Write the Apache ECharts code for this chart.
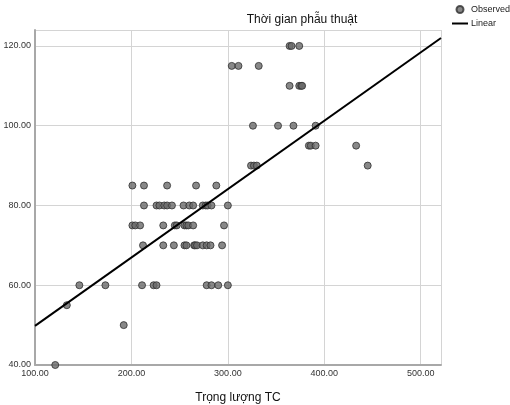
<!DOCTYPE html>
<html>
<head>
<meta charset="utf-8">
<script src="https://cdn.jsdelivr.net/npm/echarts@6/dist/echarts.min.js"></script>
<style>
  html, body { margin: 0; padding: 0; background: #fff; }
  #chart { width: 510px; height: 405px; }
</style>
</head>
<body>
<div id="chart"></div>
<script>
// Trọng lượng TC (x) va Thời gian phẫu thuật (y), doc tu hinh
var obsX = [
  121, 192, 133,
  146, 173, 211, 223, 226, 278, 283, 290, 300,
  212, 233, 244, 255, 257, 265, 266, 268, 274, 278, 282, 294,
  201, 204, 209, 233, 245, 247, 255, 257, 259, 264, 296,
  213, 226, 229, 234, 237, 242, 254, 260, 264, 274, 277, 279, 283, 300,
  201, 213, 237, 267, 288,
  324, 327, 330, 445,
  384, 386, 391, 433,
  326, 352, 368, 391,
  364, 374, 376, 377,
  304, 311, 332,
  364, 366, 374
];
var obsY = [
  40, 50, 55,
  60, 60, 60, 60, 60, 60, 60, 60, 60,
  70, 70, 70, 70, 70, 70, 70, 70, 70, 70, 70, 70,
  75, 75, 75, 75, 75, 75, 75, 75, 75, 75, 75,
  80, 80, 80, 80, 80, 80, 80, 80, 80, 80, 80, 80, 80, 80,
  85, 85, 85, 85, 85,
  90, 90, 90, 90,
  95, 95, 95, 95,
  100, 100, 100, 100,
  110, 110, 110, 110,
  115, 115, 115,
  120, 120, 120
];
// duong hoi quy tuyen tinh
var fitX = [100, 521];
var fitY = [49.8, 122.0];

var observed = obsX.map(function (x, i) { return [x, obsY[i]]; });
var linear = fitX.map(function (x, i) { return [x, fitY[i]]; });

var myChart = echarts.init(document.getElementById('chart'));
var option = {
  animation: false,
  backgroundColor: '#ffffff',
  textStyle: { fontFamily: 'Liberation Sans, Arial, sans-serif' },
  title: {
    text: 'Thời gian phẫu thuật',
    left: 297,
    top: 9,
    textAlign: 'center',
    textStyle: { fontSize: 12, fontWeight: 'normal', color: '#111' }
  },
  legend: {
    orient: 'vertical',
    left: 451,
    top: 5,
    itemWidth: 16,
    itemHeight: 7,
    itemGap: 5,
    padding: 0,
    textStyle: { fontSize: 9, color: '#222', padding: [0, 0, 0, -2] },
    data: [
      { name: 'Observed', icon: 'circle' },
      { name: 'Linear', itemStyle: { opacity: 0 } }
    ]
  },
  grid: { left: 35, right: 69, top: 30, bottom: 40, outerBoundsMode: 'none' },
  xAxis: {
    type: 'value',
    min: 100,
    max: 521,
    interval: 100,
    name: 'Trọng lượng TC',
    nameLocation: 'middle',
    nameGap: 27,
    nameTextStyle: { fontSize: 12, color: '#111' },
    axisLine: { show: true, lineStyle: { color: '#a8a8a8', width: 2 } },
    axisTick: { show: false },
    axisLabel: {
      fontSize: 9, color: '#333', margin: 4,
      formatter: function (v) { return v.toFixed(2); },
      showMaxLabel: false
    },
    splitLine: { lineStyle: { color: '#d4d4d4', width: 1 } }
  },
  yAxis: {
    type: 'value',
    min: 40,
    max: 124,
    interval: 20,
    axisLine: { show: true, lineStyle: { color: '#a8a8a8', width: 2 } },
    axisTick: { show: false },
    axisLabel: {
      fontSize: 9, color: '#333', margin: 4,
      formatter: function (v) { return v.toFixed(2); },
      showMaxLabel: false
    },
    splitLine: { lineStyle: { color: '#d4d4d4', width: 1 } }
  },
  series: [
    {
      name: 'Observed',
      type: 'scatter',
      data: observed,
      symbolSize: 7,
      itemStyle: { color: '#6a6a6a', borderColor: '#303030', borderWidth: 1 },
      z: 3
    },
    {
      name: 'Linear',
      type: 'line',
      data: linear,
      symbol: 'none',
      lineStyle: { color: '#000', width: 2 },
      itemStyle: { color: '#000' },
      z: 4
    }
  ]
};
myChart.setOption(option);
</script>
</body>
</html>
